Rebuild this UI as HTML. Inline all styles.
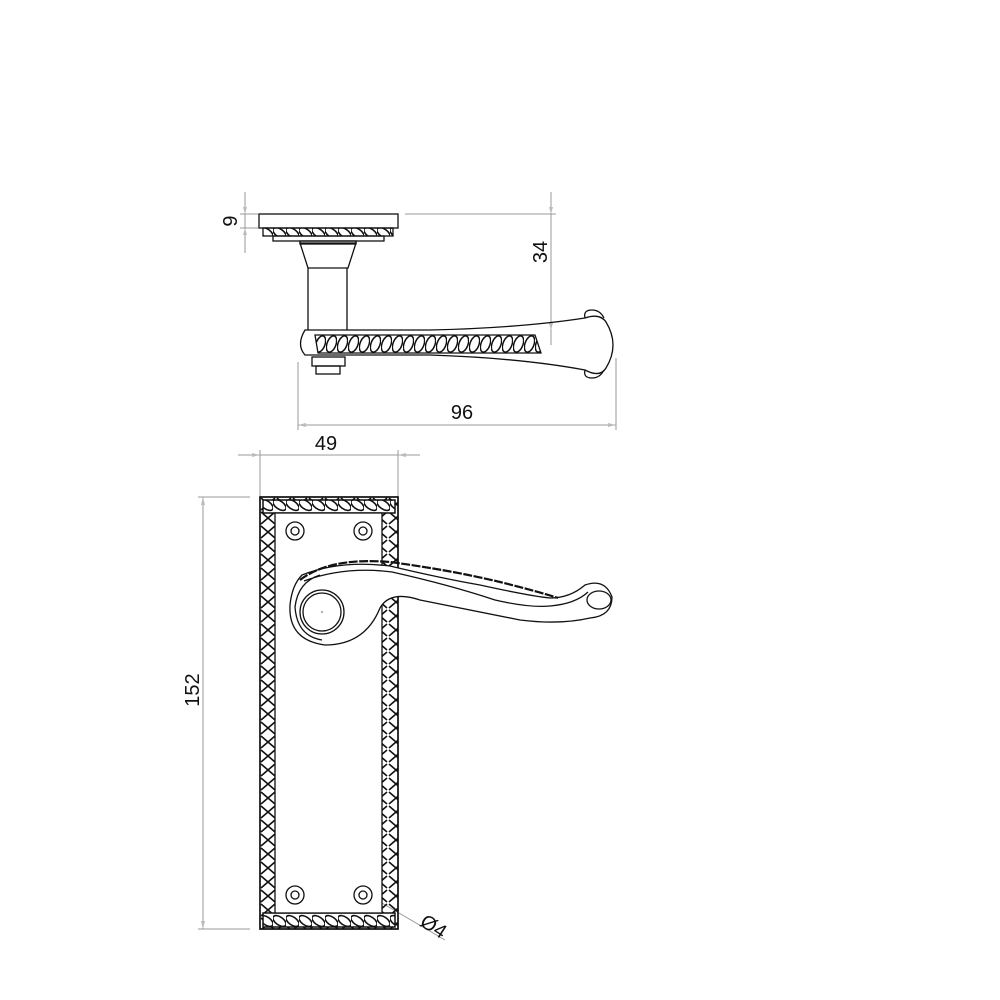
<!DOCTYPE html>
<html><head><style>html,body{margin:0;padding:0;background:#fff}svg{display:block}text{font-family:"Liberation Sans",sans-serif;font-size:20px;fill:#111}</style></head><body>
<svg width="1000" height="1000" viewBox="0 0 1000 1000" xmlns="http://www.w3.org/2000/svg">
<defs>
<pattern id="ropeV" x="260" y="497" width="16" height="14" patternUnits="userSpaceOnUse">
<path d="M1 1 L15 13 M15 1 L1 13" stroke="#111" stroke-width="1.6" fill="none"/>
</pattern>
<pattern id="ropeH" x="260" y="913" width="13" height="16" patternUnits="userSpaceOnUse">
<ellipse cx="6.5" cy="8" rx="7.5" ry="4" transform="rotate(35 6.5 8)" fill="none" stroke="#111" stroke-width="1.6"/>
</pattern>
<pattern id="ropeL" x="315" y="335" width="11" height="18" patternUnits="userSpaceOnUse">
<ellipse cx="5.5" cy="9" rx="4.5" ry="8.5" transform="rotate(20 5.5 9)" fill="none" stroke="#111" stroke-width="1.5"/>
</pattern>
</defs>
<g fill="none" stroke="#999" stroke-width="1">
<line x1="240" y1="214" x2="258" y2="214"/><line x1="240" y1="228" x2="258" y2="228"/>
<line x1="245" y1="192" x2="245" y2="253"/>
<line x1="405" y1="214" x2="556" y2="214"/><line x1="551" y1="192" x2="551" y2="345"/>
<line x1="298" y1="362" x2="298" y2="430"/><line x1="616" y1="358" x2="616" y2="430"/>
<line x1="298" y1="425" x2="616" y2="425"/>
<line x1="260" y1="450" x2="260" y2="497"/><line x1="398" y1="450" x2="398" y2="497"/>
<line x1="238" y1="455" x2="420" y2="455"/>
<line x1="198" y1="497" x2="250" y2="497"/><line x1="198" y1="929" x2="250" y2="929"/>
<line x1="203" y1="497" x2="203" y2="929"/>
<line x1="370" y1="896" x2="445" y2="940"/>
</g>
<g fill="#bbb">
<path d="M245 214 l-2 -7 l4 0z"/><path d="M245 228 l-2 7 l4 0z"/>
<path d="M551 214 l-2 -7 l4 0z"/><path d="M551 330 l-2 -7 l4 0z"/>
<path d="M298 425 l8 -2 l0 4z"/><path d="M616 425 l-8 -2 l0 4z"/>
<path d="M260 455 l-8 -2 l0 4z"/><path d="M398 455 l8 -2 l0 4z"/>
<path d="M203 497 l-2 8 l4 0z"/><path d="M203 929 l-2 -8 l4 0z"/>
</g>
<text x="237" y="221" transform="rotate(-90 237 221) translate(0 0)" text-anchor="middle">9</text>
<text x="547" y="252" transform="rotate(-90 547 252)" text-anchor="middle">34</text>
<text x="462" y="419" text-anchor="middle">96</text>
<text x="326" y="450" text-anchor="middle">49</text>
<text x="199" y="690" transform="rotate(-90 199 690)" text-anchor="middle">152</text>
<text x="430" y="932" transform="rotate(33 430 932)" text-anchor="middle">Ø4</text>
<g fill="none" stroke="#111" stroke-width="1.3">
<rect x="259" y="214" width="139" height="14"/>
<rect x="263" y="228" width="130" height="8" fill="url(#ropeH)"/>
<rect x="273" y="236" width="111" height="5"/>
<path d="M300 243 L356 243 L348 268 L308 268 Z"/>
<rect x="300" y="241" width="56" height="3"/>
<path d="M308 268 L308 330 M347 268 L347 330"/>
<path d="M305 330 L430 330 Q520 328 585 318 Q600 313 606 322 Q620 345 606 368 Q600 378 585 370 Q520 358 430 355 L305 355 Q296 345 305 330 Z"/>
<path d="M585 318 Q583 310 592 310 Q600 310 604 318 M585 370 Q583 378 592 378 Q600 378 604 370"/>
<path d="M315 335 L535 335 L541 353 L318 353 Z" fill="url(#ropeL)"/>
<rect x="312" y="357" width="33" height="9"/>
<rect x="316" y="366" width="24" height="8"/>
</g>
<g fill="none" stroke="#111" stroke-width="1.3">
<rect x="260" y="497" width="138" height="432" fill="url(#ropeV)"/>
<rect x="263" y="500" width="132" height="13" fill="#fff"/>
<rect x="263" y="500" width="132" height="13" fill="url(#ropeH)"/>
<rect x="263" y="913" width="132" height="14" fill="#fff"/>
<rect x="263" y="913" width="132" height="14" fill="url(#ropeH)"/>
<rect x="260" y="497" width="138" height="432" stroke-width="1.6"/>
<rect x="275" y="513" width="107" height="400" fill="#fff"/>
<circle cx="295" cy="531" r="9"/><circle cx="295" cy="531" r="4"/>
<circle cx="363" cy="531" r="9"/><circle cx="363" cy="531" r="4"/>
<circle cx="295" cy="895" r="9"/><circle cx="295" cy="895" r="4"/>
<circle cx="363" cy="895" r="9"/><circle cx="363" cy="895" r="4"/>
<path d="M302 575 Q340 560 390 566 Q440 578 480 585 Q530 596 550 598 Q570 598 585 585 Q605 578 612 597 Q612 616 590 618 Q560 625 520 620 L420 600 Q390 590 380 608 Q365 645 325 645 Q288 640 290 605 Q292 585 302 575 Z" fill="#fff"/>
<path d="M304 581 Q345 566 392 572 Q450 585 495 600 Q530 608 550 606 Q575 604 588 592 M322 640 Q297 636 295 607 Q298 582 320 575"/>
<path d="M300 580 Q330 557 390 562 Q450 570 500 582 Q540 592 558 598" stroke-dasharray="9 1.5" stroke-width="2.2"/>
<circle cx="322" cy="612" r="22"/><circle cx="322" cy="612" r="19"/>
<ellipse cx="599" cy="600" rx="12" ry="9"/>
</g>
<circle cx="322" cy="612" r="1" fill="#999"/>
</svg>
</body></html>
